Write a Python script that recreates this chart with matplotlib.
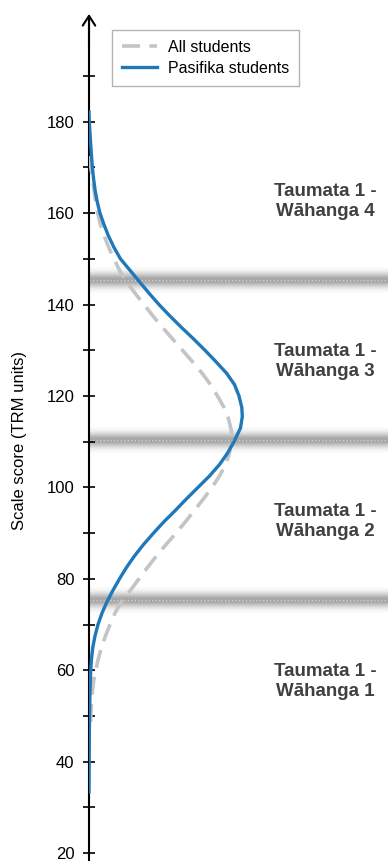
import numpy as np
import matplotlib.pyplot as plt
from matplotlib.ticker import FixedLocator

plt.rcParams['font.family'] = ['Liberation Sans', 'DejaVu Sans']

# ---- data (density in arbitrary units) ----
pasifika_score = [182.2, 180, 177.5, 175, 172.5, 170, 167.5, 165, 162.5, 160, 157.5,
                  155, 152.5, 150, 147.5, 145, 142.5, 140, 137.5, 135, 132.5, 130,
                  127.5, 125, 122.5, 120, 117.5, 115.5, 113, 110, 107.5, 105, 102.5,
                  100, 97.5, 95, 92.5, 90, 87.5, 85, 82.5, 80, 77.5, 75, 72.5, 70,
                  67.5, 65, 62.5, 60, 55, 50, 45, 40, 33.3]
pasifika_density = [0.0, 0.003, 0.01, 0.017, 0.025, 0.034, 0.046, 0.061, 0.082, 0.11, 0.15,
                    0.195, 0.25, 0.315, 0.41, 0.505, 0.60, 0.70, 0.81, 0.925, 1.045, 1.16,
                    1.27, 1.375, 1.455, 1.50, 1.528, 1.533, 1.515, 1.45, 1.385, 1.305, 1.205,
                    1.09, 0.975, 0.865, 0.75, 0.645, 0.545, 0.455, 0.375, 0.305, 0.24,
                    0.18, 0.13, 0.09, 0.06, 0.038, 0.025, 0.017, 0.01, 0.005, 0.003,
                    0.002, 0.0]

all_score = [172.5, 170, 167.5, 165, 162.5, 160, 157.5, 155, 152.5, 150, 147.5, 145,
             142.5, 140, 137.5, 135, 132.5, 130, 127.5, 125, 122.5, 120, 117.5, 115,
             112.5, 110, 107.5, 105, 102.5, 100, 97.5, 95, 92.5, 90, 87.5, 85, 82.5,
             80, 77.5, 75, 72.5, 70, 67.5, 65, 62.5, 60, 57.5, 55, 52.5, 50, 47.5]
all_density = [0.0, 0.018, 0.036, 0.05, 0.066, 0.087, 0.115, 0.152, 0.198, 0.25, 0.305,
               0.375, 0.46, 0.55, 0.64, 0.735, 0.835, 0.935, 1.035, 1.13, 1.215, 1.285,
               1.35, 1.395, 1.423, 1.425, 1.405, 1.365, 1.305, 1.23, 1.145, 1.055, 0.965,
               0.87, 0.77, 0.675, 0.585, 0.50, 0.415, 0.325, 0.26, 0.21, 0.165, 0.125,
               0.093, 0.067, 0.045, 0.032, 0.024, 0.018, 0.012]

cutpoints = [75.4, 110.4, 145.4]
level_labels = ['Taumata 1 -\nWāhanga 1', 'Taumata 1 -\nWāhanga 2',
                'Taumata 1 -\nWāhanga 3', 'Taumata 1 -\nWāhanga 4']
label_scores = [57.5, 92.5, 127.5, 162.5]
major_ticks = [20, 40, 60, 80, 100, 120, 140, 160, 180]
minor_ticks = [30, 50, 70, 90, 110, 130, 150, 170, 190]
series_names = ['All students', 'Pasifika students']

# ---- figure ----
W, H = 388, 861
fig = plt.figure(figsize=(W / 100, H / 100), dpi=100)
ax_left = 89 / W
ax = fig.add_axes([ax_left, 0, 1 - ax_left, 1])
ppu = 4.57
ylo = 20 - 8 / ppu
yhi = 20 + 853 / ppu
ax.set_ylim(ylo, yhi)
xmax = 2.99
ax.set_xlim(0, xmax)

# bands (soft grey gradient with dotted centre line)
half = 2.8
prof = np.linspace(-1, 1, 121)
alpha = np.exp(-(prof / 0.55) ** 2) * 0.62
for c in cutpoints:
    img = np.zeros((len(prof), 1, 4))
    img[..., :3] = 0.42
    img[:, 0, 3] = alpha
    ax.imshow(img, extent=(0, xmax, c - half, c + half), aspect='auto',
              origin='lower', zorder=1, interpolation='bilinear')
    ax.axhline(c, color='#d2d2d2', lw=1.0, linestyle=(0, (1, 1.5)), zorder=1.5)

ax.plot(all_density, all_score, color='#c4c4c4', lw=2.6,
        linestyle=(0, (5, 2.6)), label=series_names[0], zorder=3)
ax.plot(pasifika_density, pasifika_score, color='#1f78b9', lw=2.4,
        label=series_names[1], zorder=4, solid_joinstyle='round')

for s, t in zip(label_scores, level_labels):
    ax.text(2.36, s, t, ha='center', va='center', fontsize=13.5,
            fontweight='bold', color='#404040', linespacing=1.2)

# axis styling
for side in ['top', 'right', 'bottom']:
    ax.spines[side].set_visible(False)
ax.spines['left'].set_linewidth(1.5)
ax.spines['left'].set_bounds(ylo, 202)
ax.annotate('', xy=(0, 203.6), xytext=(0, 196),
            xycoords=('axes fraction', 'data'),
            arrowprops=dict(arrowstyle='->,head_length=0.7,head_width=0.45',
                            lw=1.5, color='black', shrinkA=0, shrinkB=0),
            annotation_clip=False)
ax.yaxis.set_major_locator(FixedLocator(major_ticks))
ax.yaxis.set_minor_locator(FixedLocator(minor_ticks))
ax.tick_params(axis='y', which='both', direction='inout', length=8, width=1.2)
ax.tick_params(axis='y', which='major', labelsize=12, pad=6.5)
ax.set_xticks([])

fig.text(20 / W, 1 - 440 / H, 'Scale score (TRM units)', rotation=90,
         ha='center', va='center', fontsize=12)

leg = ax.legend(loc='upper left', bbox_to_anchor=(112 / W, 1 - 30 / H),
                bbox_transform=fig.transFigure, fontsize=11.5, frameon=True,
                fancybox=False, edgecolor='#a0a0a0', borderaxespad=0,
                handlelength=2.2, handletextpad=0.7, labelspacing=0.4,
                borderpad=0.6)
leg.get_frame().set_linewidth(1.0)

fig.savefig('out.png', dpi=100)
